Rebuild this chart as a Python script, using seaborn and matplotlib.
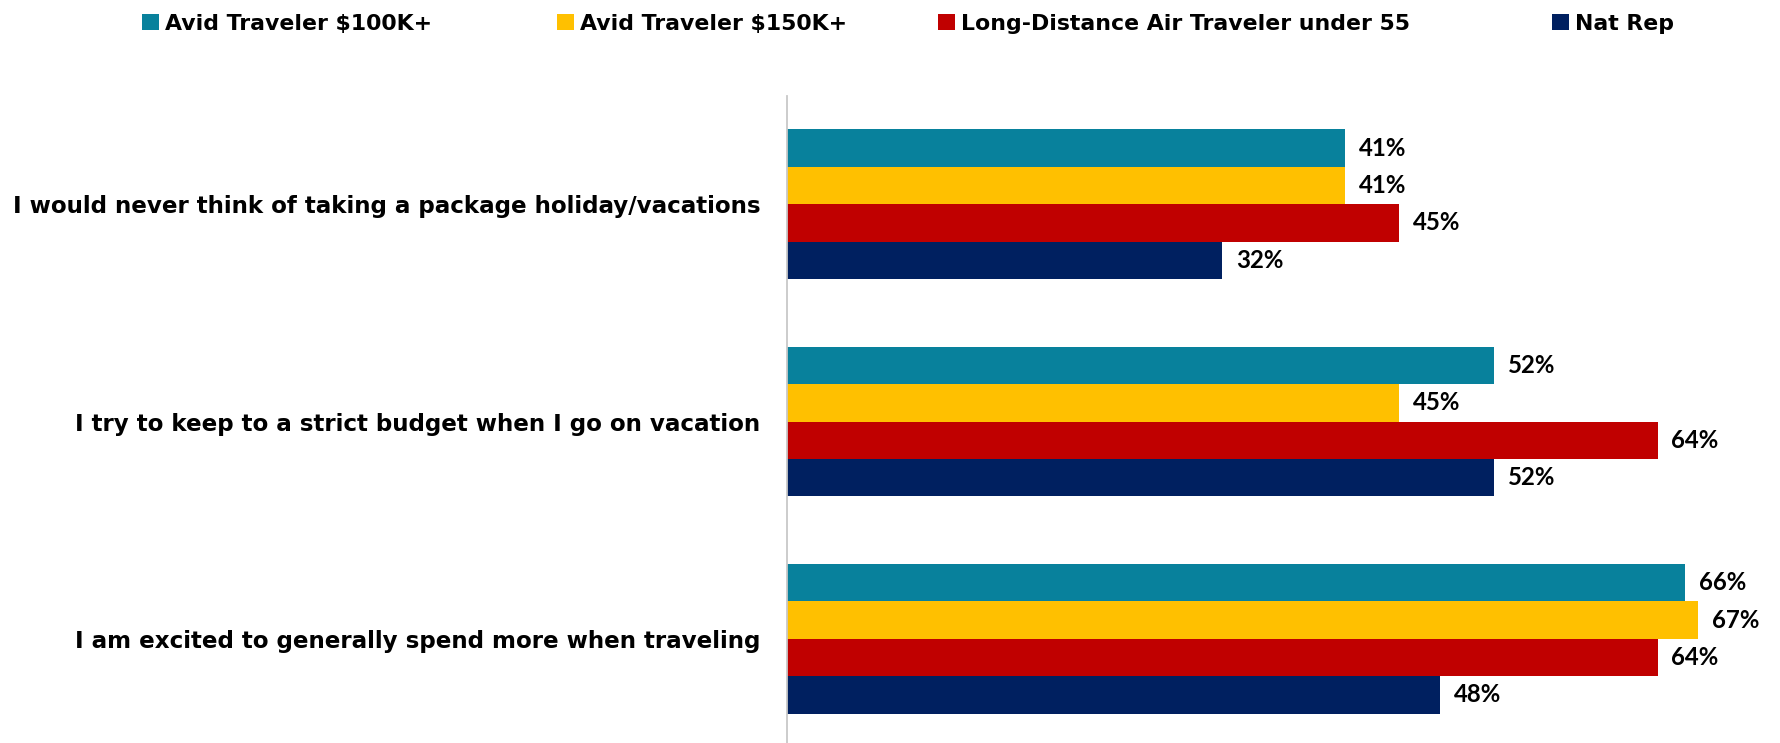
import pandas as pd
import matplotlib.pyplot as plt
import seaborn as sns

# survey statements and the share agreeing, per segment
statements = [
    "I would never think of taking a package holiday/vacations",
    "I try to keep to a strict budget when I go on vacation",
    "I am excited to generally spend more when traveling",
]
segments = [
    "Avid Traveler $100K+",
    "Avid Traveler $150K+",
    "Long-Distance Air Traveler under 55",
    "Nat Rep",
]
avid_100k = [41, 52, 66]
avid_150k = [41, 45, 67]
long_distance = [45, 64, 64]
nat_rep = [32, 52, 48]

colors = ["#08819C", "#FFC000", "#C00000", "#002060"]

# long format table for seaborn
rows = []
for seg, vals in zip(segments, [avid_100k, avid_150k, long_distance, nat_rep]):
    for st, v in zip(statements, vals):
        rows.append({"statement": st, "segment": seg, "value": v})
df = pd.DataFrame(rows)

sns.set_style("white")
plt.rcParams["font.family"] = ["DejaVu Sans"]
plt.rcParams["text.color"] = "black"

fig = plt.figure(figsize=(17.8, 7.43), dpi=100)
ax = fig.add_axes([786.7 / 1780, 1 - 747.45 / 743, 1 - 786.7 / 1780, 651.9 / 743])

sns.barplot(data=df, x="value", y="statement", hue="segment", orient="h",
            palette=colors, saturation=1, width=0.688, ax=ax, linewidth=0)

ax.set_xlim(0, 73)
ax.set_ylim(2.5, -0.5)
ax.set_xlabel("")
ax.set_ylabel("")
ax.set_xticks([])

for c in ax.containers:
    ax.bar_label(c, fmt="%d%%", padding=10, fontsize=17.3, fontweight="bold",
                 family="Lato", color="black")

ax.tick_params(axis="y", length=0, pad=19, labelsize=16.6, labelcolor="black")
for lbl in ax.get_yticklabels():
    lbl.set_fontweight("bold")
for side in ["top", "right", "bottom"]:
    ax.spines[side].set_visible(False)
ax.spines["left"].set_color("#C8C8C8")
ax.spines["left"].set_linewidth(1.3)

handles, labels = ax.get_legend_handles_labels()
ax.get_legend().remove()

# legend entries placed one by one like the original
legend_x = [143, 558, 939, 1553]
for h, lab, lx in zip(handles, labels, legend_x):
    leg = fig.legend([h], [lab], loc="center left",
                     bbox_to_anchor=(lx / 1780 - 0.0005, 1 - 24 / 743),
                     frameon=False, prop={"size": 15.8, "weight": "bold"},
                     handlelength=0.75, handleheight=0.75,
                     handletextpad=0.3, borderpad=0, borderaxespad=0)
    for t in leg.get_texts():
        t.set_color("black")

fig.savefig("out.png", dpi=100)
